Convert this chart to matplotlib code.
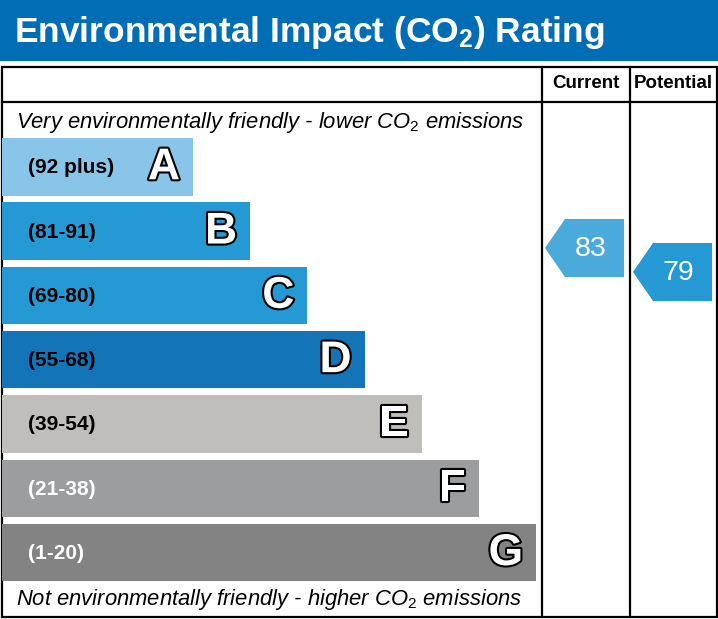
import matplotlib.pyplot as plt
from matplotlib.patches import Rectangle, Polygon
import matplotlib.patheffects as pe

plt.rcParams['mathtext.fontset'] = 'custom'
plt.rcParams['mathtext.rm'] = 'Liberation Sans'
plt.rcParams['mathtext.it'] = 'Liberation Sans:italic'
plt.rcParams['mathtext.bf'] = 'Liberation Sans:bold'

FONT = ['Liberation Sans', 'DejaVu Sans']

# bands of the rating
letters = ['A', 'B', 'C', 'D', 'E', 'F', 'G']
ranges = ['(92 plus)', '(81-91)', '(69-80)', '(55-68)', '(39-54)', '(21-38)', '(1-20)']
band_colors = ['#88c5e8', '#2599d3', '#2599d3', '#1474b8', '#bfbebb', '#9c9d9f', '#838383']
range_text_colors = ['black', 'black', 'black', 'black', 'black', 'white', 'white']

# scores
current_score = 83
potential_score = 79
current_color = '#4aaadb'
potential_color = '#2599d3'

W, H = 718, 619
fig = plt.figure(figsize=(W / 100, H / 100), dpi=100)
ax = fig.add_axes([0, 0, 1, 1])
ax.set_xlim(0, W)
ax.set_ylim(H, 0)
ax.axis('off')

# title bar
ax.add_patch(Rectangle((0, 0), W, 61, color='#006db5', lw=0))
ax.text(14, 42, 'Environmental Impact (CO$_\\mathbf{2}$) Rating', color='white',
        fontsize=25.5, fontweight='bold', va='baseline', ha='left', family=FONT)

# frame
lw = 1.6
ax.add_patch(Rectangle((1.5, 66.5), 715, 550, fill=False, ec='black', lw=lw))
ax.plot([1.5, 716.5], [101.5, 101.5], color='black', lw=lw)
col1, col2 = 542, 630
ax.plot([col1, col1], [66.5, 616.5], color='black', lw=lw)
ax.plot([col2, col2], [66.5, 616.5], color='black', lw=lw)
ax.text((col1 + col2) / 2, 84, 'Current', fontsize=13.5, fontweight='bold',
        ha='center', va='center', family=FONT)
ax.text((col2 + 716) / 2, 84, 'Potential', fontsize=13.5, fontweight='bold',
        ha='center', va='center', family=FONT)

ax.text(16, 128, 'Very environmentally friendly - lower CO$_2$ emissions',
        fontsize=15.8, style='italic', ha='left', va='baseline', family=FONT)
ax.text(16, 605, 'Not environmentally friendly - higher CO$_2$ emissions',
        fontsize=15.8, style='italic', ha='left', va='baseline', family=FONT)

# bars
top0, step, bh = 138, 64.3, 57.5
w0, wstep = 191, 57.2
for i, letter in enumerate(letters):
    yc = top0 + i * step + bh / 2
    wd = w0 + i * wstep
    ax.barh(yc, wd, height=bh, left=2, color=band_colors[i], lw=0)
    ax.text(28, yc + 1, ranges[i], fontsize=15, fontweight='bold',
            color=range_text_colors[i], ha='left', va='center', family=FONT)
    ax.text(2 + wd - 13, yc + 1, letter, fontsize=32, fontweight='bold',
            color='white', ha='right', va='center', family=FONT,
            path_effects=[pe.withStroke(linewidth=3, foreground='black')])


def score_y(s):
    return 746 - 6 * s


def arrow(x_left, x_right, score, color):
    yc = score_y(score)
    h = 58
    pts = [(x_left, yc), (x_left + 20, yc - h / 2), (x_right, yc - h / 2),
           (x_right, yc + h / 2), (x_left + 20, yc + h / 2)]
    ax.add_patch(Polygon(pts, closed=True, color=color, lw=0))
    ax.text((x_left + 20 + x_right) / 2 - 4, yc + 1, str(score), color='white',
            fontsize=20.5, ha='center', va='center', family=FONT)


arrow(545, 624, current_score, current_color)
arrow(633, 712, potential_score, potential_color)

fig.savefig('out.png', dpi=100)
